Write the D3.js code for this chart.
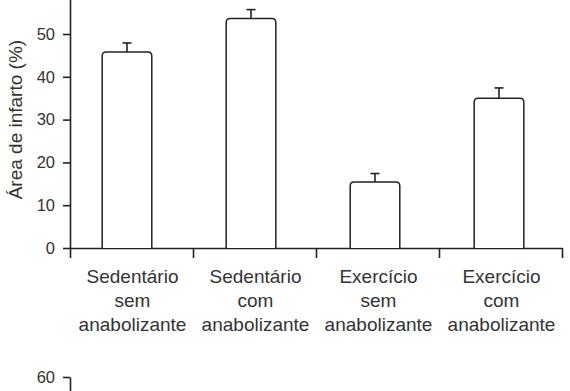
<!DOCTYPE html>
<html>
<head>
<meta charset="utf-8">
<script src="https://cdn.jsdelivr.net/npm/d3@7"></script>
<style>
  body { margin: 0; background: #fff; }
  svg { display: block; }
  text { font-family: "Liberation Sans", Arial, sans-serif; fill: #333; }
</style>
</head>
<body>
<div id="chart"></div>
<script>
// data
const groups = ["Sedentário|sem|anabolizante", "Sedentário|com|anabolizante",
    "Exercício|sem|anabolizante", "Exercício|com|anabolizante"];
const means = [45.8, 53.6, 15.4, 35.0];
const errors = [2.1, 2.1, 2.0, 2.4];
const yTicks = [0, 10, 20, 30, 40, 50];
const yTicksNext = [60];
const yTitle = "Área de infarto (%)";

const W = 570, H = 391;
const left = 70, right = 562, zeroY = 248, pxPerUnit = 4.28;

const svg = d3.select("#chart").append("svg")
    .attr("width", W)
    .attr("height", H);

const y = d3.scaleLinear()
    .domain([0, 60])
    .range([zeroY, zeroY - 60 * pxPerUnit]);

// bars sit a little left of the band centres in the figure
const x = d3.scaleBand()
    .domain(groups)
    .range([left - 5, right - 1])
    .paddingInner(0.6)
    .paddingOuter(0.3);

// boundary ticks on the x axis
const xEdges = d3.scaleLinear().domain([0, groups.length]).range([left, right]);

function styleAxis(g) {
    g.selectAll(".domain, .tick line")
        .attr("stroke", "#222")
        .attr("stroke-width", 1.6);
    g.selectAll(".tick text")
        .style("font-size", "16.5px")
        .attr("fill", "#333");
}

svg.append("g")
    .attr("class", "y-axis")
    .attr("transform", `translate(${left},0)`)
    .call(d3.axisLeft(y).tickValues(yTicks).tickSize(7).tickPadding(8).tickSizeOuter(0))
    .call(styleAxis);

svg.append("g")
    .attr("class", "x-axis")
    .attr("transform", `translate(0,${zeroY})`)
    .call(d3.axisBottom(xEdges).tickValues(d3.range(groups.length + 1)).tickFormat("").tickSize(10).tickSizeOuter(0))
    .call(styleAxis);

svg.append("text")
    .attr("transform", `translate(22,${(y(0) + y(60)) / 2}) rotate(-90)`)
    .attr("text-anchor", "middle")
    .style("font-size", "19px")
    .text(yTitle);

// bars with rounded top corners
const r = 4;
function barPath(d, i) {
    const x0 = x(d), x1 = x(d) + x.bandwidth();
    const top = y(means[i]), base = y(0);
    return `M${x0},${base}V${top + r}Q${x0},${top} ${x0 + r},${top}H${x1 - r}Q${x1},${top} ${x1},${top + r}V${base}`;
}

svg.selectAll("path.bar")
    .data(groups)
    .enter().append("path")
    .attr("class", "bar")
    .attr("d", barPath)
    .attr("fill", "#fff")
    .attr("stroke", "#222")
    .attr("stroke-width", 1.5);

// error bars
const capW = 9;
const err = svg.selectAll("g.err")
    .data(groups)
    .enter().append("g")
    .attr("class", "err");

err.append("line")
    .attr("x1", d => x(d) + x.bandwidth() / 2)
    .attr("x2", d => x(d) + x.bandwidth() / 2)
    .attr("y1", (d, i) => y(means[i]))
    .attr("y2", (d, i) => y(means[i] + errors[i]))
    .attr("stroke", "#222")
    .attr("stroke-width", 1.6);

err.append("line")
    .attr("x1", d => x(d) + x.bandwidth() / 2 - capW / 2)
    .attr("x2", d => x(d) + x.bandwidth() / 2 + capW / 2)
    .attr("y1", (d, i) => y(means[i] + errors[i]))
    .attr("y2", (d, i) => y(means[i] + errors[i]))
    .attr("stroke", "#222")
    .attr("stroke-width", 1.6);

// category labels, three lines each, centred between the boundary ticks
const labels = svg.selectAll("text.cat")
    .data(groups)
    .enter().append("text")
    .attr("class", "cat")
    .attr("text-anchor", "middle")
    .style("font-size", "19px");

labels.selectAll("tspan")
    .data((d, i) => d.split("|").map(t => ({t, cx: xEdges(i + 0.5) + 1})))
    .enter().append("tspan")
    .attr("x", d => d.cx)
    .attr("y", (d, i) => 283 + i * 24)
    .text(d => d.t);

// top of the next panel, cut off by the frame
const y2 = d3.scaleLinear()
    .domain([0, 60])
    .range([377 + 60 * pxPerUnit, 377]);

svg.append("g")
    .attr("class", "y-axis2")
    .attr("transform", `translate(${left},0)`)
    .call(d3.axisLeft(y2).tickValues(yTicksNext).tickSize(7).tickPadding(8).tickSizeOuter(0))
    .call(styleAxis);
</script>
</body>
</html>
